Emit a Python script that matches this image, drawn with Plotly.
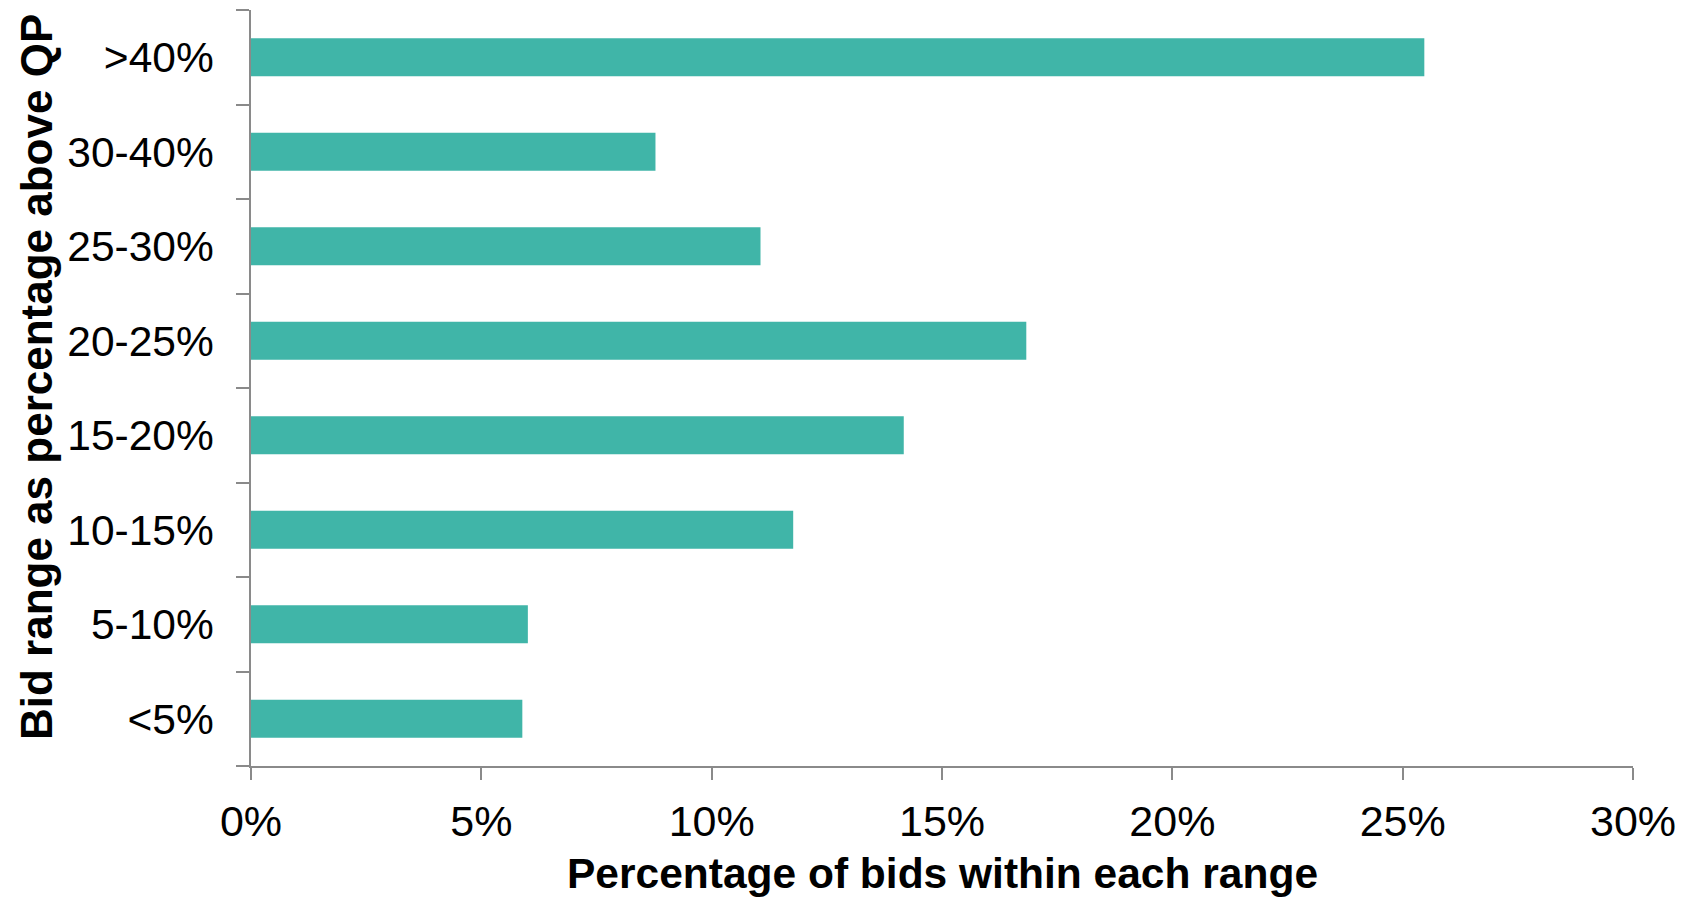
import plotly.graph_objects as go

categories = ["<5%", "5-10%", "10-15%", "15-20%", "20-25%", "25-30%", "30-40%", ">40%"]
values = [5.89, 6.01, 11.77, 14.17, 16.83, 11.06, 8.78, 25.47]
x_ticks = [0, 5, 10, 15, 20, 25, 30]
x_tick_labels = ["0%", "5%", "10%", "15%", "20%", "25%", "30%"]

FONT = "Liberation Sans, Arial, Helvetica, sans-serif"
AXIS_COLOR = "#8a8a8a"
BAR_COLOR = "#40b5a8"

fig = go.Figure(
    go.Bar(
        y=categories,
        x=values,
        orientation="h",
        marker=dict(color=BAR_COLOR, line=dict(width=0)),
        hoverinfo="skip",
    )
)

fig.update_layout(
    width=1690,
    height=897,
    margin=dict(l=251, r=57, t=10, b=131),
    paper_bgcolor="white",
    plot_bgcolor="white",
    bargap=0.6,
    showlegend=False,
    font=dict(family=FONT, color="black"),
)

fig.update_xaxes(
    range=[0, 30],
    tickvals=x_ticks,
    ticktext=x_tick_labels,
    ticks="outside",
    ticklen=12,
    tickwidth=1.5,
    tickcolor=AXIS_COLOR,
    showline=True,
    linecolor=AXIS_COLOR,
    linewidth=1.5,
    showgrid=False,
    zeroline=False,
    tickfont=dict(size=43, family=FONT, color="black"),
    ticklabelstandoff=5,
)

fig.update_yaxes(
    type="category",
    categoryorder="array",
    categoryarray=categories,
    range=[-0.5, 7.5],
    ticks="outside",
    tickson="boundaries",
    ticklen=13,
    tickwidth=1.5,
    tickcolor=AXIS_COLOR,
    showline=True,
    linecolor=AXIS_COLOR,
    linewidth=1.5,
    showgrid=False,
    zeroline=False,
    tickfont=dict(size=42.5, family=FONT, color="black"),
    ticklabelstandoff=27,
)

fig.add_annotation(
    text="<b>Bid range as percentage above QP</b>",
    xref="paper", yref="paper",
    x=-0.1548, y=0.5146,
    xanchor="center", yanchor="middle",
    textangle=-90,
    showarrow=False,
    font=dict(size=44, family=FONT, color="black"),
)

fig.add_annotation(
    text="<b>Percentage of bids within each range</b>",
    xref="paper", yref="paper",
    x=0.5, y=-0.142,
    xanchor="center", yanchor="middle",
    showarrow=False,
    font=dict(size=42.5, family=FONT, color="black"),
)

fig.write_html("out.html")
